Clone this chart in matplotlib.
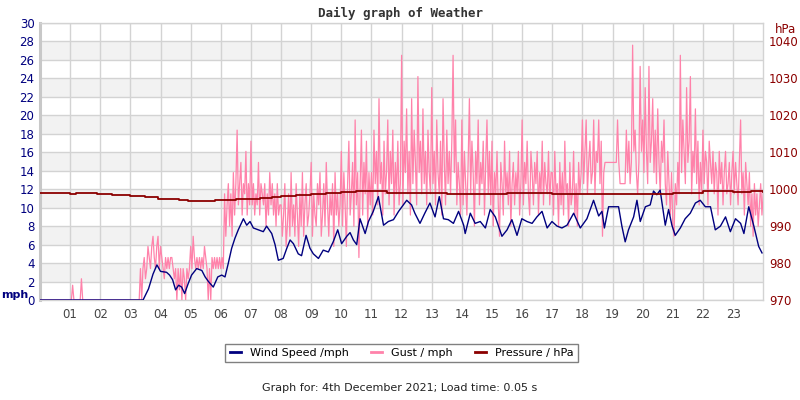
import numpy as np
import matplotlib
matplotlib.use("Agg")
import matplotlib.pyplot as plt
from matplotlib.lines import Line2D

# wind speed (mph)
wind_hours = [0, 3.42, 3.6, 3.75, 3.88, 4.0, 4.2, 4.3, 4.4, 4.5, 4.6, 4.7, 4.8, 4.92,
              5.03, 5.2, 5.37, 5.48, 5.59, 5.75, 5.9, 6.03, 6.14, 6.25, 6.36, 6.47, 6.58,
              6.75, 6.86, 6.97, 7.08, 7.25, 7.41, 7.52, 7.69, 7.8, 7.91, 8.07, 8.19, 8.3,
              8.41, 8.57, 8.68, 8.83, 8.96, 9.07, 9.24, 9.4, 9.57, 9.73, 9.88, 10.01, 10.18,
              10.29, 10.4, 10.51, 10.62, 10.79, 10.9, 11.06, 11.23, 11.4, 11.56, 11.73, 11.9,
              12.17, 12.33, 12.44, 12.61, 12.77, 12.94, 13.11, 13.25, 13.39, 13.55, 13.72,
              13.89, 14.06, 14.11, 14.28, 14.44, 14.61, 14.78, 14.94, 15.11, 15.33, 15.5,
              15.66, 15.83, 15.99, 16.16, 16.33, 16.49, 16.66, 16.83, 16.99, 17.16, 17.32,
              17.49, 17.71, 17.93, 18.15, 18.37, 18.54, 18.65, 18.73, 18.87, 19.2, 19.31,
              19.42, 19.53, 19.7, 19.81, 19.92, 20.09, 20.25, 20.36, 20.47, 20.58, 20.75,
              20.86, 20.97, 21.08, 21.25, 21.41, 21.58, 21.75, 21.91, 22.08, 22.25, 22.41,
              22.58, 22.75, 22.91, 23.08, 23.25, 23.36, 23.52, 23.69, 23.85, 23.96]
wind_mph = [0, 0, 1.2, 2.8, 3.8, 3.1, 3.0, 2.7, 2.2, 1.1, 1.6, 1.4, 0.7, 1.8,
            2.7, 3.4, 3.2, 2.5, 2.0, 1.4, 2.5, 2.7, 2.5, 4.0, 5.6, 6.7, 7.6,
            8.8, 8.1, 8.5, 7.8, 7.6, 7.4, 8.0, 7.2, 6.0, 4.3, 4.5, 5.6, 6.5,
            6.1, 5.0, 4.8, 7.0, 5.6, 5.0, 4.5, 5.4, 5.2, 6.3, 7.6, 6.1, 6.9,
            7.3, 6.5, 6.0, 8.8, 7.2, 8.5, 9.6, 11.2, 8.1, 8.5, 8.7, 9.6,
            10.8, 10.3, 9.4, 8.3, 9.4, 10.5, 9.0, 11.2, 8.8, 8.7, 8.3,
            9.6, 8.1, 7.2, 9.4, 8.3, 8.5, 7.8, 9.8, 9.0, 6.9, 7.6,
            8.7, 7.0, 8.8, 8.5, 8.3, 9.0, 9.6, 7.8, 8.5, 8.0, 7.8,
            8.1, 9.4, 7.8, 8.8, 10.8, 9.1, 9.6, 7.8, 10.1, 10.1, 8.0,
            6.3, 7.6, 9.0, 10.8, 8.5, 10.1, 10.3, 11.8, 11.4, 11.9, 8.1,
            9.8, 8.1, 7.0, 7.8, 8.8, 9.4, 10.5, 10.8, 10.1, 10.1, 7.6,
            8.0, 9.0, 7.4, 8.8, 8.3, 7.2, 10.1, 8.0, 5.8, 5.1]

# gust (mph), one value every 2.5 minutes, one row per hour
gust_mph = (
    [0] * 24 +
    [0, 0, 1.6, 0, 0, 0, 0, 0, 0, 2.3, 0, 0] + [0] * 12 +
    [0] * 24 +
    [0, 0, 0, 0, 0, 0, 0, 0, 3.4, 0, 3.4, 4.6, 2.3, 3.4, 5.8, 4.6, 3.4, 5.8, 6.9, 4.6, 3.4, 5.8, 6.9, 3.4] +
    [5.8, 4.6, 3.4, 2.3, 4.6, 3.4, 4.6, 3.4, 4.6, 4.6, 3.4, 2.3, 3.4, 0, 3.4, 1.1, 3.4, 0, 3.4, 2.3, 0, 3.4, 2.3, 3.4] +
    [5.8, 3.4, 6.9, 4.6, 3.4, 4.6, 3.4, 4.6, 3.4, 4.6, 3.4, 5.8, 4.6, 3.4, 0, 3.4, 0, 4.6, 3.4, 4.6, 3.4, 4.6, 3.4, 4.6] +
    [3.4, 4.6, 3.4, 11.5, 6.9, 10.3, 12.6, 8.0, 11.5, 6.9, 13.8, 9.2, 12.6, 18.4, 10.3, 12.6, 14.9, 9.2, 12.6, 11.5, 16.1, 9.2, 12.6, 10.3] +
    [17.2, 10.3, 12.6, 9.2, 11.5, 10.3, 14.9, 9.2, 12.6, 11.5, 10.3, 12.6, 8.0, 11.5, 9.2, 13.8, 10.3, 12.6, 9.2, 11.5, 8.0, 12.6, 9.2, 10.3] +
    [10.3, 6.9, 9.2, 12.6, 5.8, 8.0, 11.5, 6.9, 13.8, 8.0, 10.3, 6.9, 12.6, 9.2, 5.8, 11.5, 8.0, 13.8, 6.9, 10.3, 12.6, 8.0, 9.2, 11.5] +
    [14.9, 6.9, 11.5, 9.2, 8.0, 12.6, 10.3, 13.8, 6.9, 9.2, 12.6, 8.0, 14.9, 10.3, 6.9, 11.5, 9.2, 12.6, 5.8, 13.8, 9.2, 11.5, 8.0, 10.3] +
    [16.1, 8.0, 13.8, 10.3, 5.8, 12.6, 17.2, 9.2, 11.5, 14.9, 8.0, 19.5, 10.3, 13.8, 4.6, 12.6, 18.4, 9.2, 14.9, 11.5, 17.2, 8.0, 13.8, 10.3] +
    [13.8, 9.2, 18.4, 12.6, 16.1, 10.3, 21.8, 12.6, 14.9, 9.2, 17.2, 11.5, 13.8, 19.5, 10.3, 16.1, 12.6, 18.4, 9.2, 14.9, 11.5, 17.2, 10.3, 12.6] +
    [26.5, 10.3, 17.2, 13.8, 20.7, 11.5, 16.1, 9.2, 21.8, 12.6, 18.4, 14.9, 10.3, 24.2, 13.8, 17.2, 11.5, 20.7, 12.6, 16.1, 10.3, 18.4, 13.8, 11.5] +
    [23.0, 12.6, 16.1, 10.3, 19.5, 13.8, 11.5, 17.2, 9.2, 21.8, 14.9, 10.3, 18.4, 12.6, 16.1, 11.5, 17.2, 26.5, 13.8, 19.5, 10.3, 14.9, 12.6, 9.2] +
    [19.5, 10.3, 16.1, 12.6, 9.2, 14.9, 21.8, 11.5, 17.2, 13.8, 8.0, 16.1, 12.6, 19.5, 10.3, 14.9, 12.6, 17.2, 9.2, 14.9, 19.5, 11.5, 16.1, 10.3] +
    [17.2, 8.0, 13.8, 11.5, 16.1, 10.3, 6.9, 14.9, 12.6, 9.2, 17.2, 11.5, 13.8, 10.3, 16.1, 8.0, 12.6, 14.9, 10.3, 13.8, 11.5, 16.1, 9.2, 12.6] +
    [19.5, 10.3, 14.9, 12.6, 17.2, 11.5, 9.2, 16.1, 13.8, 10.3, 14.9, 12.6, 16.1, 9.2, 13.8, 11.5, 17.2, 10.3, 14.9, 12.6, 11.5, 16.1, 10.3, 13.8] +
    [13.8, 9.2, 16.1, 11.5, 12.6, 8.0, 14.9, 10.3, 13.8, 9.2, 17.2, 11.5, 12.6, 8.0, 14.9, 10.3, 11.5, 16.1, 9.2, 12.6, 8.0, 14.9, 11.5, 13.8] +
    [19.5, 12.6, 16.1, 19.5, 11.5, 14.9, 17.2, 12.6, 13.8, 19.5, 11.5, 16.1, 14.9, 19.5, 12.6, 17.2, 6.9, 13.8, 14.9, 14.9, 14.9, 14.9, 14.9, 14.9] +
    [14.9, 14.9, 14.9, 14.9, 19.5, 14.9, 12.6, 12.6, 12.6, 12.6, 12.6, 18.4, 13.8, 17.2, 12.6, 14.9, 27.6, 16.1, 18.4, 13.8, 11.5, 14.9, 25.3, 16.1] +
    [19.5, 13.8, 23.0, 16.1, 12.6, 25.3, 14.9, 17.2, 21.8, 13.8, 18.4, 12.6, 20.7, 14.9, 11.5, 17.2, 14.9, 19.5, 12.6, 10.3, 16.1, 12.6, 9.2, 13.8] +
    [8.0, 6.9, 12.6, 10.3, 14.9, 11.5, 26.5, 13.8, 19.5, 16.1, 12.6, 23.0, 14.9, 17.2, 24.2, 11.5, 16.1, 13.8, 20.7, 12.6, 17.2, 10.3, 14.9, 11.5] +
    [18.4, 12.6, 16.1, 14.9, 10.3, 17.2, 14.9, 12.6, 16.1, 11.5, 14.9, 13.8, 9.2, 16.1, 12.6, 14.9, 10.3, 13.8, 16.1, 11.5, 12.6, 14.9, 10.3, 13.8] +
    [16.1, 11.5, 14.9, 12.6, 10.3, 14.9, 19.5, 11.5, 13.8, 9.2, 14.9, 12.6, 10.3, 13.8, 8.0, 11.5, 6.9, 12.6, 9.2, 11.5, 8.0, 10.3, 12.6, 9.2] +
    [11.5]
)
gust_hours = np.arange(len(gust_mph)) * 2.5 / 60

# pressure (hPa)
pressure_hours = [0, 1.0, 1.2, 1.9, 2.4, 3.0, 3.5, 3.9, 4.6, 4.9, 5.7, 5.8, 6.5, 6.9,
                  7.3, 7.7, 8.0, 8.5, 9.0, 9.5, 10.0, 10.5, 11.0, 11.5, 12.0, 13.0,
                  13.5, 14.5, 15.5, 17.0, 18.0, 19.0, 21.0, 21.8, 22.0, 22.8, 23.0,
                  23.6, 24.0]
pressure_hpa = [999.0, 998.7, 999.0, 998.6, 998.3, 998.1, 997.8, 997.4, 997.1, 996.9,
                996.9, 997.2, 997.3, 997.3, 997.6, 997.8, 998.2, 998.5, 998.8, 999.0,
                999.2, 999.4, 999.4, 999.1, 999.0, 999.1, 998.8, 998.6, 998.9, 998.7,
                998.8, 998.8, 998.9, 999.0, 999.4, 999.4, 999.2, 999.4, 999.3]

hour_labels = ["%02d" % h for h in range(1, 24)]

navy = "#00007f"
pink = "#ff82aa"
darkred = "#8b0000"

fig = plt.figure(figsize=(8, 4), dpi=100)
ax = fig.add_axes([0.05, 0.25, 0.904, 0.6925])

# alternating bands
for lo in range(2, 30, 4):
    ax.axhspan(lo, lo + 2, color="#f2f2f2", zorder=0, lw=0)

ax.set_xlim(0, 24)
ax.set_ylim(0, 30)
ax.set_yticks(range(0, 31, 2))
ax.set_xticks(range(1, 24))
ax.set_xticklabels(hour_labels)
ax.grid(True, color="#d3d3d3", lw=1, zorder=1)
ax.set_axisbelow(True)
ax.tick_params(axis="y", length=0, pad=4, labelsize=8.5, labelcolor=navy)
ax.tick_params(axis="x", length=0, pad=6, labelsize=8.5, labelcolor="#444444")
for s in ax.spines.values():
    s.set_color("#d3d3d3")
    s.set_linewidth(1)
ax.spines["left"].set_color("#c8c8c8")
ax.spines["left"].set_linewidth(2.2)

ax.plot(gust_hours, gust_mph, color=pink, lw=0.9, zorder=3)
ax.plot(wind_hours, wind_mph, color=navy, lw=1.0, zorder=4)

ax2 = ax.twinx()
ax2.set_ylim(970, 1045)
ax2.set_yticks(range(970, 1041, 10))
ax2.tick_params(axis="y", length=0, pad=4, labelsize=8.5, labelcolor=darkred)
for s in ax2.spines.values():
    s.set_visible(False)
ax2.plot(pressure_hours, pressure_hpa, color=darkred, lw=1.3, drawstyle="steps-post")

fig.text(0.5, 0.967, "Daily graph of Weather", ha="center", va="center",
         family="DejaVu Sans Mono", weight="bold", size=9, color="#333333")
fig.text(0.002, 0.262, "mph", ha="left", va="center", weight="bold", size=8, color=navy)
fig.text(0.995, 0.927, "hPa", ha="right", va="center", size=8.5, color=darkred)

handles = [Line2D([], [], color=navy, lw=2),
           Line2D([], [], color=pink, lw=2),
           Line2D([], [], color=darkred, lw=2)]
leg = fig.legend(handles, ["Wind Speed /mph", "Gust / mph", "Pressure / hPa"],
                 loc="center", bbox_to_anchor=(0.502, 0.1175), ncol=3, fontsize=8,
                 handlelength=1.0, handletextpad=0.8, columnspacing=2.0,
                 fancybox=False, edgecolor="#808080", framealpha=1)
leg.get_frame().set_linewidth(1)

fig.text(0.5, 0.03, "Graph for: 4th December 2021; Load time: 0.05 s",
         ha="center", va="center", size=8, color="#222222")

fig.savefig("out.png", dpi=100)
